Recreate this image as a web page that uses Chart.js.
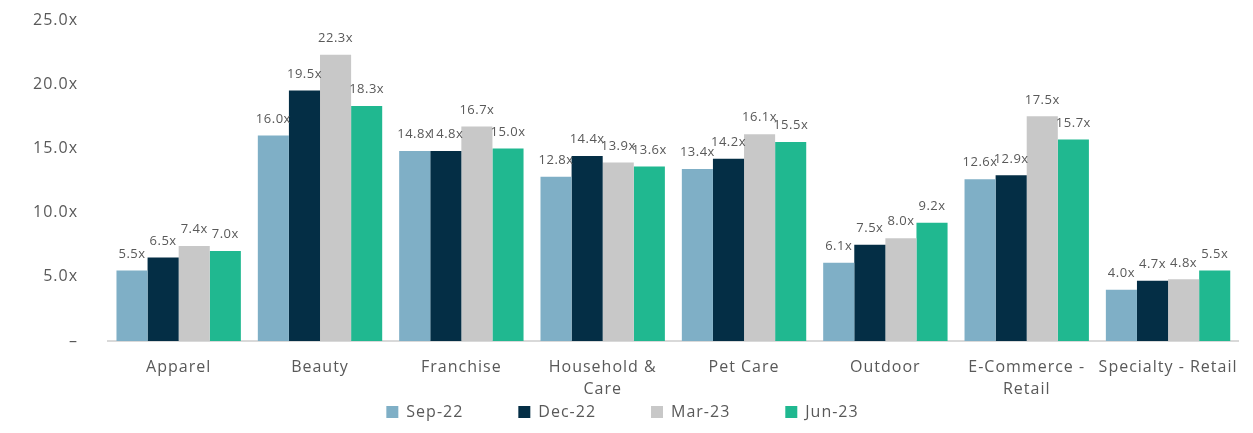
<!DOCTYPE html>
<html>
<head>
<meta charset="utf-8">
<script src="https://cdn.jsdelivr.net/npm/chart.js@4/dist/chart.umd.min.js"></script>
<style>
html,body{margin:0;padding:0;background:#fff;}
#wrap{width:1253px;height:433px;position:relative;}
</style>
</head>
<body>
<div id="wrap"><canvas id="c" width="1253" height="433"></canvas></div>
<script>
const categories = ['Apparel', 'Beauty', 'Franchise', ['Household &', 'Care'], 'Pet Care', 'Outdoor', ['E-Commerce -', 'Retail'], 'Specialty - Retail'];
const sep22 = [5.5, 16.0, 14.8, 12.8, 13.4, 6.1, 12.6, 4.0];
const dec22 = [6.5, 19.5, 14.8, 14.4, 14.2, 7.5, 12.9, 4.7];
const mar23 = [7.4, 22.3, 16.7, 13.9, 16.1, 8.0, 17.5, 4.8];
const jun23 = [7.0, 18.3, 15.0, 13.6, 15.5, 9.2, 15.7, 5.5];
const seriesNames = ['Sep-22', 'Dec-22', 'Mar-23', 'Jun-23'];
const colors = ['#7FAFC6', '#042E45', '#C8C8C8', '#20B890'];
const yTicks = [0, 5, 10, 15, 20, 25];

const FONT = "'Open Sans', 'Liberation Sans', sans-serif";
const TXT = '#595959';
const LEGEND_SHIFT = 52;

const spacingPlugin = {
  id: 'spacing',
  afterInit(chart) {
    chart.ctx.letterSpacing = '1px';
    const lg = chart.legend;
    if (lg && !lg._wrapped) {
      lg._wrapped = true;
      const fit = lg.fit.bind(lg), draw = lg.draw.bind(lg);
      lg.fit = function () { fit(); this.height -= LEGEND_SHIFT; };
      lg.draw = function () { this.top -= LEGEND_SHIFT; draw(); this.top += LEGEND_SHIFT; };
    }
  },
  beforeDraw(chart) { chart.ctx.letterSpacing = '1px'; }
};

const labelPlugin = {
  id: 'barLabels',
  afterDatasetsDraw(chart) {
    const ctx = chart.ctx;
    ctx.save();
    ctx.letterSpacing = '0.5px';
    ctx.font = '13px ' + FONT;
    ctx.fillStyle = TXT;
    ctx.textAlign = 'center';
    ctx.textBaseline = 'bottom';
    chart.data.datasets.forEach((ds, i) => {
      const meta = chart.getDatasetMeta(i);
      meta.data.forEach((bar, j) => {
        ctx.fillText(ds.data[j].toFixed(1) + 'x', bar.x, bar.y - 10);
      });
    });
    ctx.restore();
  }
};

const datasets = [sep22, dec22, mar23, jun23].map((d, i) => ({
  label: seriesNames[i],
  data: d,
  backgroundColor: colors[i],
  borderWidth: 0,
  categoryPercentage: 0.88,
  barPercentage: 1.0
}));

new Chart(document.getElementById('c'), {
  type: 'bar',
  data: { labels: categories, datasets },
  plugins: [spacingPlugin, labelPlugin],
  options: {
    responsive: false,
    animation: false,
    layout: { padding: { top: 0, right: 8, left: 0, bottom: 3 } },
    plugins: {
      legend: {
        position: 'bottom',
        labels: {
          boxWidth: 12, boxHeight: 12, padding: 55,
          color: TXT,
          font: { family: FONT, size: 16 }
        }
      },
      tooltip: { enabled: false }
    },
    scales: {
      x: {
        afterFit(scale) { scale.height = 60; },
        grid: { display: false, drawTicks: false },
        border: { display: true, color: '#D9D9D9', width: 2 },
        ticks: { color: TXT, font: { family: FONT, size: 16, lineHeight: 1.4 }, padding: 15, maxRotation: 0, autoSkip: false }
      },
      y: {
        min: 0, max: 25,
        afterFit(scale) { scale.width = 108; scale.paddingTop = 20; scale.paddingBottom = 10; },
        afterBuildTicks(scale) { scale.ticks = yTicks.map(v => ({ value: v })); },
        grid: { display: false, drawTicks: false },
        border: { display: false },
        ticks: {
          color: TXT, padding: 30,
          font: { family: FONT, size: 16 },
          callback: v => v === 0 ? '–' : v.toFixed(1) + 'x'
        }
      }
    }
  }
});
</script>
</body>
</html>
